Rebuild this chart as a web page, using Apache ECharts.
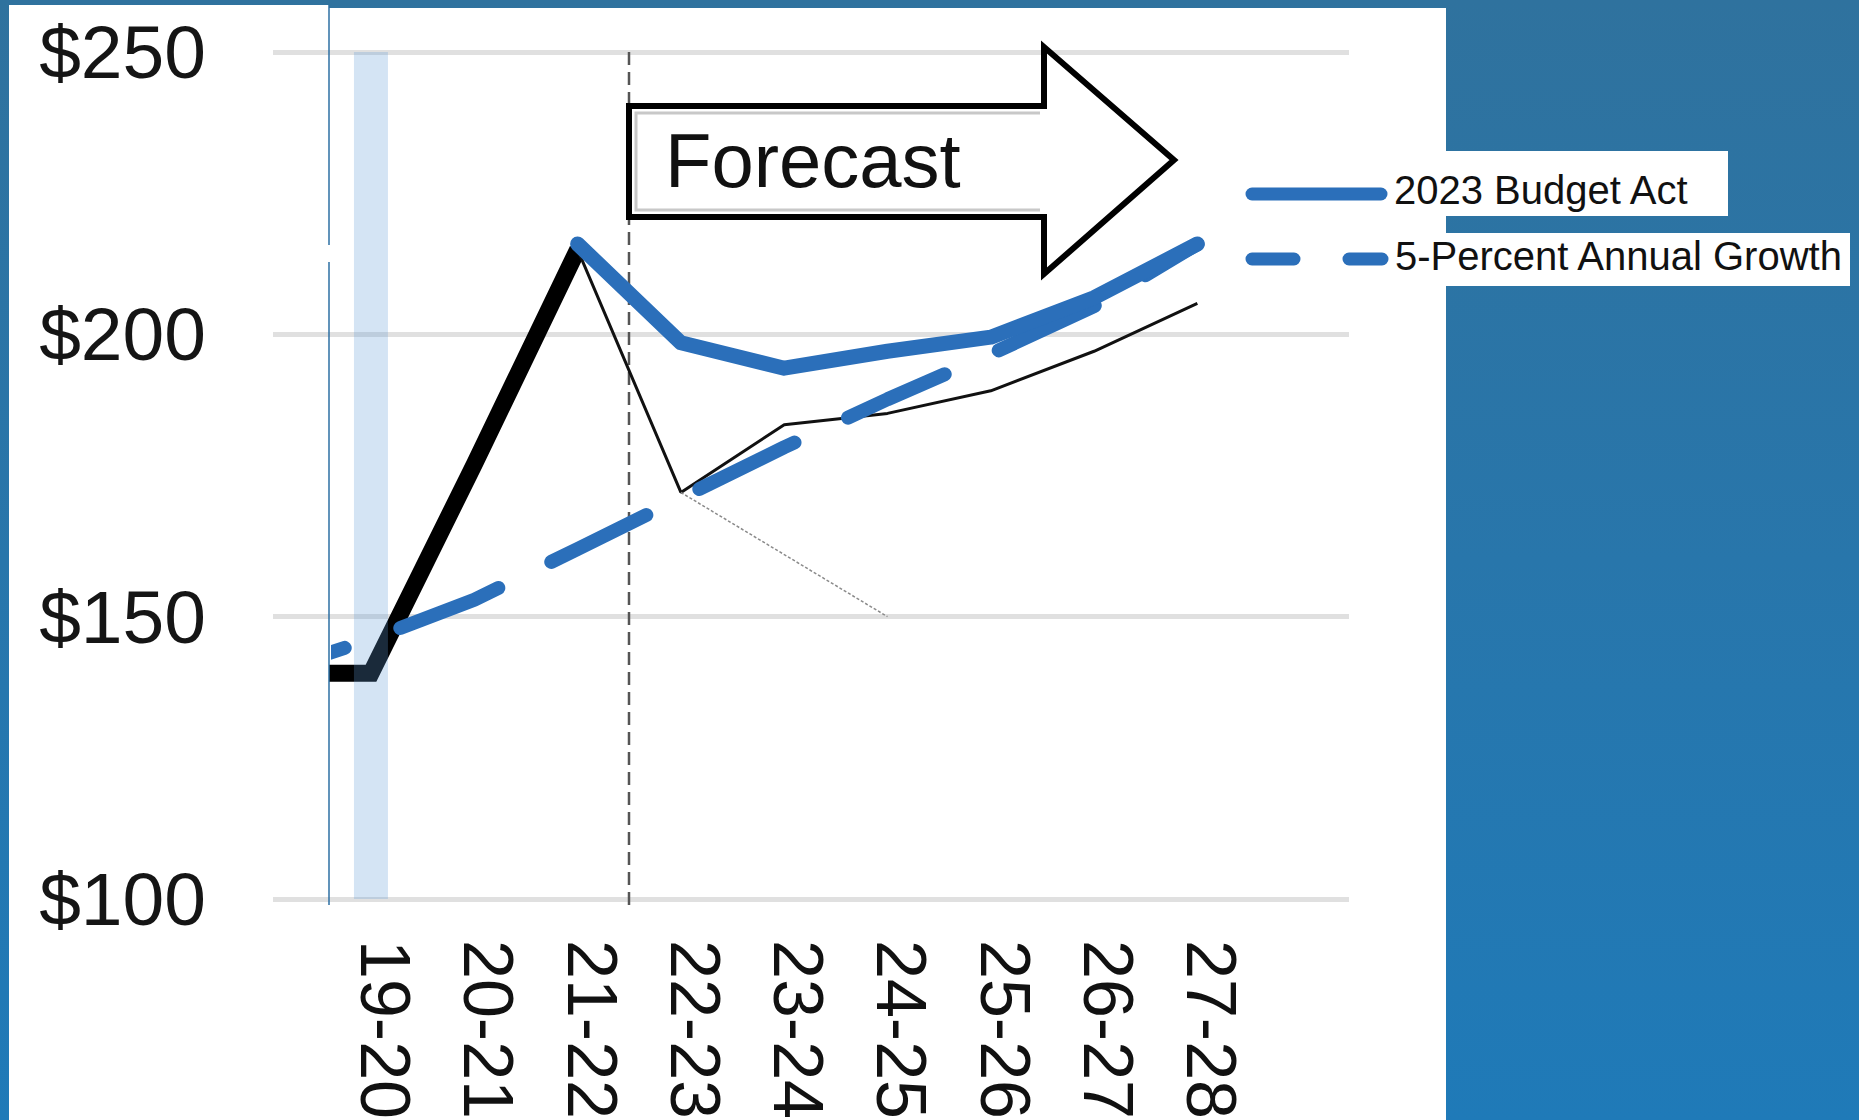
<!DOCTYPE html>
<html><head><meta charset="utf-8">
<script src="https://cdn.jsdelivr.net/npm/echarts@6/dist/echarts.min.js"></script>
<style>
html,body{margin:0;padding:0;width:1859px;height:1120px;overflow:hidden;background:linear-gradient(180deg,#2f729e 0%,#2876ab 50%,#1f7ab8 100%);}
.w{position:absolute;background:#fff;}
#chart{position:absolute;left:0;top:0;width:1859px;height:1120px;}
</style></head><body>
<div class="w" style="left:9px;top:5px;width:320px;height:1115px"></div>
<div class="w" style="left:329px;top:8px;width:1117px;height:1112px"></div>
<div class="w" style="left:1446px;top:151px;width:282px;height:65px"></div>
<div class="w" style="left:1446px;top:233px;width:404px;height:53px"></div>
<div id="chart"></div>
<script>
// ---- data (billions) ----
const categories   = ['18-19','19-20','20-21','21-22','22-23','23-24','24-25','25-26','26-27','27-28'];
const actual       = [140, 140, 177, 215, null, null, null, null, null, null];
const priorPath    = [null, null, null, 215, 172, 184, 186, 190, 197, 205.5];
const fadedPath    = [null, null, null, null, 172, 161, 150, null, null, null];
const budgetAct    = [null, null, null, 216, 198.5, 194, 197, 199.5, 206.5, 216];
const growth5      = [140, 146, 153, 162, 171, 180, 188.5, 196.5, 205, 216];
const highlight    = [null, 250, null, null, null, null, null, null, null, null];
const yTicks       = [100, 150, 200, 250];
const legendNames  = ['2023 Budget Act', '5-Percent Annual Growth'];
const arrowText    = 'Forecast';

const FONT = "'Liberation Sans', Arial, Helvetica, sans-serif";
const BLUE = '#2b6fba';
const pts = arr => arr.map((v, i) => v == null ? null : [i, v]).filter(p => p);

const chart = echarts.init(document.getElementById('chart'), null, {renderer: 'svg'});
const yMin = yTicks[0], yMax = yTicks[yTicks.length - 1], yStep = yTicks[1] - yTicks[0];

const option = {
  backgroundColor: 'transparent',
  animation: false,
  grid: [
    {left: 273, right: 510, top: 52, bottom: 221, outerBoundsMode: 'none', containLabel: false},
    {left: 216, right: 610, top: 52, bottom: 221, outerBoundsMode: 'none', containLabel: false},
    {left: 338, right: 610, top: 52, bottom: 221, outerBoundsMode: 'none', containLabel: false}
  ],
  xAxis: [
    {gridIndex: 0, type: 'value', show: false, min: 0, max: 1},
    {gridIndex: 1, type: 'category', data: categories, boundaryGap: true,
      axisLine: {show: false}, axisTick: {show: false}, splitLine: {show: false},
      axisLabel: {interval: 0, rotate: -90, margin: 41, fontSize: 70, fontFamily: FONT, color: '#111',
        verticalAlign: 'bottom', lineHeight: 28,
        formatter: (v, i) => i === 0 ? '' : v}},
    {gridIndex: 2, type: 'value', show: false, min: 0.68, max: 9.5}
  ],
  yAxis: [
    {gridIndex: 0, type: 'value', min: yMin, max: yMax, interval: yStep,
      axisLine: {show: false}, axisTick: {show: false},
      axisLabel: {fontSize: 75, margin: 67, color: '#151515', fontFamily: FONT, padding: [0, 0, 8, 0],
        formatter: v => '$' + v},
      splitLine: {lineStyle: {color: '#e0e0e0', width: 5}}},
    {gridIndex: 1, type: 'value', min: yMin, max: yMax, show: false},
    {gridIndex: 2, type: 'value', min: yMin, max: yMax, show: false}
  ],
  series: [
    {type: 'line', xAxisIndex: 2, yAxisIndex: 2, data: pts(actual), showSymbol: false, silent: true, z: 2,
      lineStyle: {color: '#000', width: 17, cap: 'butt', join: 'miter'}},
    {type: 'line', xAxisIndex: 2, yAxisIndex: 2, data: pts(priorPath), showSymbol: false, silent: true, z: 2,
      lineStyle: {color: '#111', width: 3}},
    {type: 'line', xAxisIndex: 2, yAxisIndex: 2, data: pts(fadedPath), showSymbol: false, silent: true, z: 2,
      lineStyle: {color: '#8a8a8a', width: 1.5, type: [3, 2]}},
    {name: legendNames[1], type: 'line', xAxisIndex: 2, yAxisIndex: 2, data: pts(growth5), showSymbol: false, silent: true, z: 3,
      lineStyle: {color: BLUE, width: 14, type: [106, 59], dashOffset: 25, cap: 'round'}},
    {name: legendNames[0], type: 'line', xAxisIndex: 2, yAxisIndex: 2, data: pts(budgetAct), showSymbol: false, silent: true, z: 3,
      lineStyle: {color: BLUE, width: 15, cap: 'round', join: 'round'}},
    {type: 'bar', xAxisIndex: 1, yAxisIndex: 1, data: highlight, barWidth: 34, silent: true, z: 5,
      itemStyle: {color: 'rgba(96,155,215,0.27)'}}
  ],
  graphic: [
    {type: 'line', z: 10, shape: {x1: 329, y1: 5, x2: 329, y2: 245}, style: {stroke: '#2d6fa3', lineWidth: 1.5}},
    {type: 'line', z: 10, shape: {x1: 329, y1: 262, x2: 329, y2: 905}, style: {stroke: '#2d6fa3', lineWidth: 1.5}},
    {type: 'line', z: 1, shape: {x1: 629, y1: 52, x2: 629, y2: 905}, style: {stroke: '#555', lineWidth: 2.5, lineDash: [13, 7]}},
    {type: 'polygon', z: 20, shape: {points: [[629,106],[1044,106],[1044,47],[1174,160],[1044,274],[1044,217],[629,217]]},
      style: {fill: '#fff', stroke: '#000', lineWidth: 6, lineJoin: 'miter'}},
    {type: 'polyline', z: 21, shape: {points: [[1040,113],[636,113],[636,210],[1040,210]]},
      style: {stroke: '#c8c8c8', lineWidth: 3, fill: null}},
    {type: 'text', z: 22, style: {text: arrowText, x: 665, y: 160, fontSize: 76, fontFamily: FONT, fill: '#111', verticalAlign: 'middle'}},
    {type: 'line', z: 10, shape: {x1: 1252, y1: 194, x2: 1381, y2: 194}, style: {stroke: BLUE, lineWidth: 13, lineCap: 'round'}},
    {type: 'line', z: 10, shape: {x1: 1252, y1: 259, x2: 1382, y2: 259}, style: {stroke: BLUE, lineWidth: 13, lineCap: 'round', lineDash: [42, 55]}},
    {type: 'text', z: 10, style: {text: legendNames[0], x: 1394, y: 190, fontSize: 40, fontFamily: FONT, fill: '#111', verticalAlign: 'middle'}},
    {type: 'text', z: 10, style: {text: legendNames[1], x: 1395, y: 256, fontSize: 40, fontFamily: FONT, fill: '#111', verticalAlign: 'middle'}}
  ]
};
chart.setOption(option);
</script>
</body></html>
